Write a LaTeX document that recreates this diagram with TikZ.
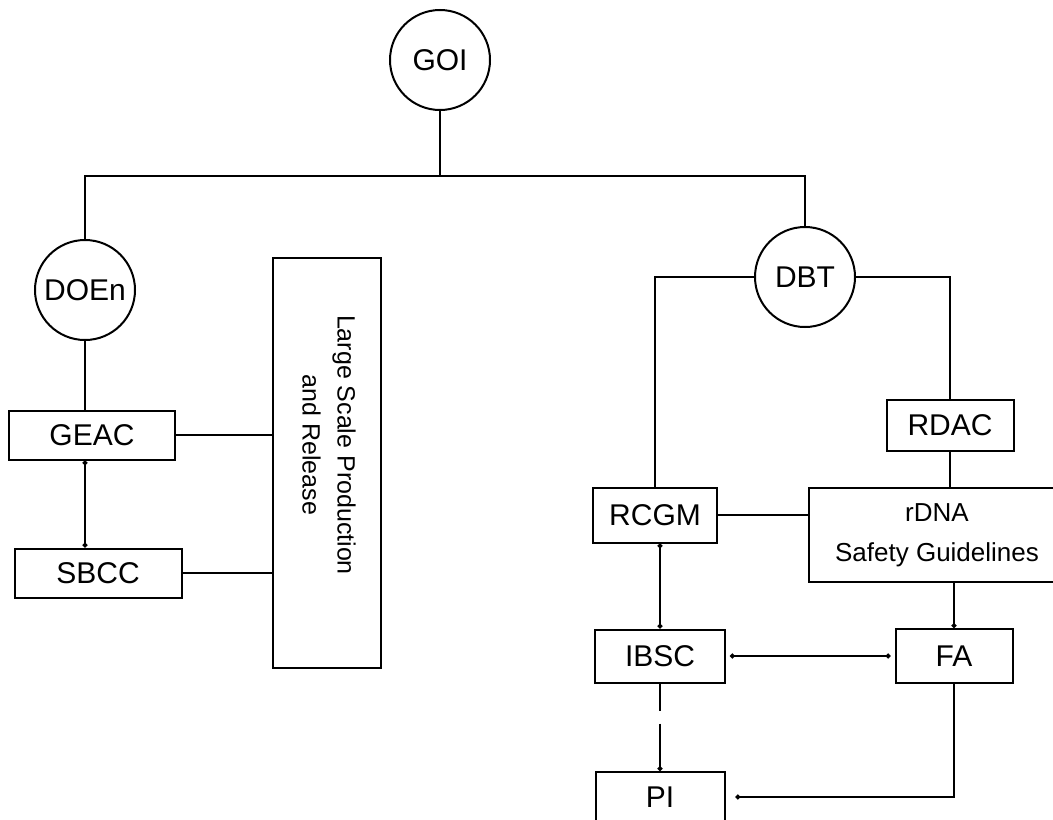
\documentclass[tikz,border=0pt]{standalone}
\usepackage{fontspec}
\setmainfont{Liberation Sans}
\usetikzlibrary{arrows.meta}

\begin{document}
\begin{tikzpicture}[x=0.5pt, y=-0.5pt, line width=1pt,
  dept/.style={circle, draw, minimum size=50pt, inner sep=0pt, font=\fontsize{15}{18}\selectfont},
  cttee/.style={draw, inner sep=0pt, font=\fontsize{15}{18}\selectfont},
  dotlink/.style={{Circle[length=2.4pt]}-{Circle[length=2.4pt]}},
  dotto/.style={-{Circle[length=2.4pt]}}]
  \useasboundingbox (0,0) rectangle (1053,819);
  \clip (0,0) rectangle (1053,819);

  % Departments
  \node[dept] (GOI) at (440,60) {GOI};
  \node[dept] (DOEn) at (85,290) {DOEn};
  \node[dept] (DBT) at (805,277) {DBT};
  \coordinate (bus) at (440,176);
  \draw (GOI) -- (bus);
  \draw (DOEn) |- (bus) -| (DBT);

  % DOEn branch
  \node[cttee, minimum width=83pt, minimum height=24.5pt] (GEAC) at (92,435) {GEAC};
  \node[cttee, minimum width=83.5pt, minimum height=24.5pt] (SBCC) at (98,573) {SBCC};
  \node[draw, inner sep=0pt, minimum width=54pt, minimum height=205pt,
        font=\fontsize{12.5}{17.5}\selectfont] (Large) at (327,463)
    {\rotatebox{-90}{\begin{tabular}{@{}c@{}}Large Scale Production\\and Release\end{tabular}\hspace{18pt}}};
  \draw (DOEn) -- (DOEn |- GEAC.north);
  \draw[dotlink] (GEAC.south -| DOEn) -- (SBCC.north -| DOEn);
  \draw (GEAC) -- (GEAC -| Large.west);
  \draw (SBCC) -- (SBCC -| Large.west);

  % DBT branch
  \node[cttee, minimum width=63.5pt, minimum height=25.5pt] (RDAC) at (950,425) {RDAC};
  \node[cttee, minimum width=62pt, minimum height=27.5pt] (RCGM) at (655,515) {RCGM};
  \node[cttee, minimum width=128pt, minimum height=47pt, align=center,
        font=\fontsize{13}{20}\selectfont] (rDNA) at (937,535) {rDNA\\Safety Guidelines};
  \node[cttee, minimum width=65pt, minimum height=26.5pt] (IBSC) at (660,656) {IBSC};
  \node[cttee, minimum width=58.5pt, minimum height=27pt] (FA) at (954,656) {FA};
  \node[cttee, minimum width=64.5pt, minimum height=25pt] (PI) at (660,797) {PI};
  \draw (DBT) -| (RCGM);
  \draw (DBT) -| (RDAC);
  \draw (RDAC) -- (RDAC |- rDNA.north);
  \draw (RCGM) -- (RCGM -| rDNA.west);
  \draw[dotto] (rDNA.south -| FA) -- (FA);
  \draw[dotlink] (RCGM.south -| IBSC) -- (IBSC);
  \draw[dotlink, shorten <=2pt, shorten >=2pt] (IBSC) -- (FA);
  \draw[dotto, dash pattern=on 13.5pt off 6.5pt on 40pt] (IBSC) -- (PI);
  \draw[dotto, shorten >=5pt] (FA) |- (PI);
\end{tikzpicture}
\end{document}
